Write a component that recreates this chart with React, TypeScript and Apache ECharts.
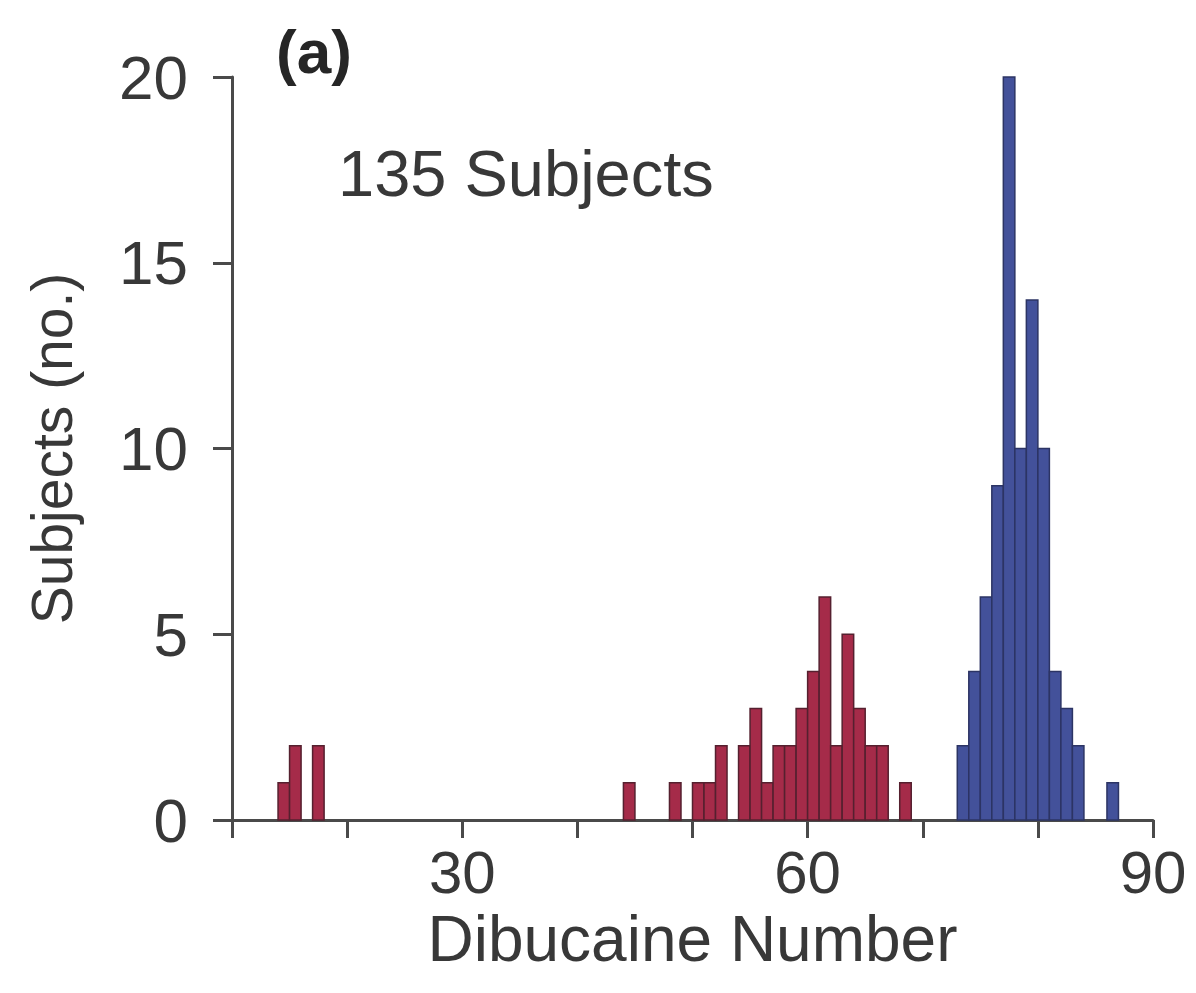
import React, { useEffect, useRef } from "react";
import * as echarts from "echarts";

// Histogram bins: each bin spans [n, n+1) on the Dibucaine Number axis
const redBins = [14, 15, 17, 44, 48, 50, 51, 52, 54, 55, 56, 57, 58, 59, 60, 61, 62, 63, 64, 65, 66, 68];
const redCounts = [1, 2, 2, 1, 1, 1, 1, 2, 2, 3, 1, 2, 2, 3, 4, 6, 2, 5, 3, 2, 2, 1];
const blueBins = [73, 74, 75, 76, 77, 78, 79, 80, 81, 82, 83, 86];
const blueCounts = [2, 4, 6, 9, 20, 10, 14, 10, 4, 3, 2, 1];

const xLabelsShown = [30, 60, 90];
const panelLabel = "(a)";
const subjectsLabel = "135 Subjects";

const FONT = "Liberation Sans, Arial, Helvetica, sans-serif";
const TEXT = "#383838";
const AXIS = "#4a4a4a";

function makeRender(fill: string, stroke: string) {
  return (params: any, api: any) => {
    const x = api.value(0);
    const h = api.value(1);
    const p0 = api.coord([x, h]);
    const p1 = api.coord([x + 1, 0]);
    return {
      type: "rect",
      shape: { x: p0[0], y: p0[1], width: p1[0] - p0[0], height: p1[1] - p0[1] },
      style: { fill, stroke, lineWidth: 1.5 },
    };
  };
}

export default function App() {
  const ref = useRef<HTMLDivElement>(null);
  useEffect(() => {
    if (!ref.current) return;
    const chart = echarts.init(ref.current, undefined, { renderer: "svg" });
    chart.setOption({
      animation: false,
      backgroundColor: "#ffffff",
      grid: { left: 232, right: 43, top: 77, bottom: 173, containLabel: false },
      xAxis: {
        type: "value",
        min: 10,
        max: 90,
        interval: 10,
        name: "Dibucaine Number",
        nameLocation: "middle",
        nameGap: 84,
        nameTextStyle: { fontSize: 64, color: TEXT, fontFamily: FONT },
        axisLine: { show: true, lineStyle: { color: AXIS, width: 3 } },
        axisTick: { show: true, inside: false, length: 18, lineStyle: { color: AXIS, width: 3 } },
        axisLabel: {
          fontSize: 60,
          color: TEXT,
          fontFamily: FONT,
          margin: 22,
          formatter: (v: number) => (xLabelsShown.indexOf(v) >= 0 ? String(v) : ""),
        },
        splitLine: { show: false },
      },
      yAxis: {
        type: "value",
        min: 0,
        max: 20,
        interval: 5,
        name: "Subjects (no.)",
        nameLocation: "middle",
        nameGap: 152,
        nameTextStyle: { fontSize: 57, color: TEXT, fontFamily: FONT },
        axisLine: { show: true, lineStyle: { color: AXIS, width: 3 } },
        axisTick: { show: true, inside: false, length: 19, lineStyle: { color: AXIS, width: 3 } },
        axisLabel: { fontSize: 62, color: TEXT, fontFamily: FONT, margin: 44 },
        splitLine: { show: false },
      },
      series: [
        {
          type: "custom",
          name: "red",
          renderItem: makeRender("#a52b49", "#55202f"),
          encode: { x: 0, y: 1 },
          data: redBins.map((b, i) => [b, redCounts[i]]),
          z: 2,
        },
        {
          type: "custom",
          name: "blue",
          renderItem: makeRender("#43519a", "#2c3464"),
          encode: { x: 0, y: 1 },
          data: blueBins.map((b, i) => [b, blueCounts[i]]),
          z: 2,
        },
      ],
      graphic: [
        {
          type: "text",
          left: 276,
          top: 20,
          style: { text: panelLabel, fontSize: 62, fontWeight: "bold", fill: "#262626", fontFamily: FONT },
        },
        {
          type: "text",
          left: 338,
          top: 141,
          style: { text: subjectsLabel, fontSize: 65, fill: TEXT, fontFamily: FONT },
        },
      ],
    });
    return () => chart.dispose();
  }, []);
  return (
    <div
      ref={ref}
      style={{ position: "fixed", left: 0, top: 0, width: 1196, height: 993, background: "#fff" }}
    />
  );
}
